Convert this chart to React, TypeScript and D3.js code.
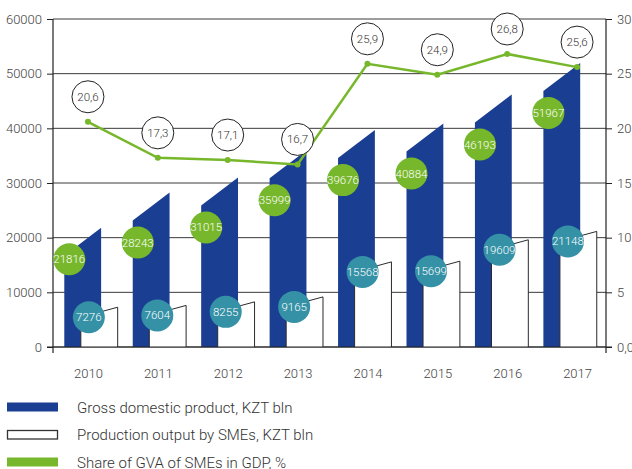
import React, { useEffect, useRef } from 'react';
import * as d3 from 'd3';

const years = ['2010', '2011', '2012', '2013', '2014', '2015', '2016', '2017'];
const gdp = [21816, 28243, 31015, 35999, 39676, 40884, 46193, 51967];
const smeOutput = [7276, 7604, 8255, 9165, 15568, 15699, 19609, 21148];
const smeShare = [20.6, 17.3, 17.1, 16.7, 25.9, 24.9, 26.8, 25.6];
const leftTicks = [0, 10000, 20000, 30000, 40000, 50000, 60000];
const rightTicks = [0, 5, 10, 15, 20, 25, 30];
const legendLabels = [
  'Gross domestic product, KZT bln',
  'Production output by SMEs, KZT bln',
  'Share of GVA of SMEs in GDP, %',
];

const BLUE = '#1a3f92';
const GREEN = '#77b72b';
const TEAL = '#3591a6';
const FONT = 'Roboto, "Open Sans", sans-serif';

const App = () => {
  const svgRef = useRef(null);

  useEffect(() => {
    const width = 632;
    const height = 469;
    const plot = { left: 53, right: 606, top: 19, bottom: 347 };

    const svg = d3.select(svgRef.current);
    svg.selectAll('*').remove();
    svg.attr('width', width).attr('height', height);

    const y = d3.scaleLinear().domain([0, 60000]).range([plot.bottom, plot.top]);
    const yR = d3.scaleLinear().domain([0, 30]).range([plot.bottom, plot.top]);

    // bar groups
    const xBar = d3.scaleBand()
      .domain(years)
      .range([plot.left, plot.right])
      .paddingInner(0.22)
      .paddingOuter(0.15)
      .align(0.55);
    const bw = xBar.bandwidth();
    const barW = bw * 0.69;

    // labels and line
    const xPt = d3.scalePoint()
      .domain(years)
      .range([plot.left, 612])
      .padding(0.5);

    // gridlines
    svg.append('g')
      .selectAll('line')
      .data(leftTicks)
      .join('line')
      .attr('x1', plot.left)
      .attr('x2', plot.right)
      .attr('y1', d => y(d))
      .attr('y2', d => y(d))
      .attr('stroke', '#3a3a3a')
      .attr('stroke-width', 1);

    // GDP bars, slanted top
    const blueSlant = 28;
    svg.append('g')
      .selectAll('path')
      .data(years)
      .join('path')
      .attr('d', (d, i) => {
        const x0 = xBar(d);
        const yt = y(gdp[i]);
        return `M${x0},${plot.bottom}L${x0},${yt + blueSlant}L${x0 + barW},${yt}L${x0 + barW},${plot.bottom}Z`;
      })
      .attr('fill', BLUE);

    // SME output bars
    const whiteSlant = 10;
    svg.append('g')
      .selectAll('path')
      .data(years)
      .join('path')
      .attr('d', (d, i) => {
        const x0 = xBar(d) + bw - barW;
        const yt = y(smeOutput[i]);
        return `M${x0},${plot.bottom}L${x0},${yt + whiteSlant}L${x0 + barW},${yt}L${x0 + barW},${plot.bottom}`;
      })
      .attr('fill', '#fff')
      .attr('stroke', '#2a2a2a')
      .attr('stroke-width', 1);

    // axes lines
    const axes = svg.append('g').attr('stroke', '#222').attr('stroke-width', 1.2);
    axes.append('line').attr('x1', plot.left).attr('x2', plot.left).attr('y1', plot.top).attr('y2', plot.bottom + 6);
    axes.append('line').attr('x1', plot.right).attr('x2', plot.right).attr('y1', plot.top).attr('y2', plot.bottom + 6);
    axes.append('line').attr('x1', plot.left - 6).attr('x2', plot.right + 6).attr('y1', plot.bottom).attr('y2', plot.bottom);

    const styleAxis = g => {
      g.select('.domain').remove();
      g.selectAll('line').attr('stroke', '#222');
      g.selectAll('text')
        .attr('fill', '#444')
        .attr('font-family', FONT)
        .attr('font-weight', 300)
        .attr('font-size', 13);
    };

    svg.append('g')
      .attr('transform', `translate(${plot.left},0)`)
      .call(d3.axisLeft(y).tickValues(leftTicks).tickSize(6).tickPadding(5).tickFormat(d3.format('d')))
      .call(styleAxis);

    svg.append('g')
      .attr('transform', `translate(${plot.right},0)`)
      .call(d3.axisRight(yR).tickValues(rightTicks).tickSize(6).tickPadding(5)
        .tickFormat(d => (d === 0 ? '0,0' : String(d))))
      .call(styleAxis);

    svg.append('g')
      .attr('transform', `translate(0,${plot.bottom})`)
      .call(d3.axisBottom(xPt).tickSize(0).tickPadding(22))
      .call(styleAxis);

    // SME output labels
    const r = 16;
    const tealPos = years.map((d, i) => ({
      x: xBar(d) + bw - barW + 8,
      y: y(smeOutput[i]) + 10,
    }));
    const tealG = svg.append('g');
    tealG.selectAll('circle')
      .data(tealPos)
      .join('circle')
      .attr('cx', d => d.x)
      .attr('cy', d => d.y)
      .attr('r', r)
      .attr('fill', TEAL);
    tealG.selectAll('text')
      .data(tealPos)
      .join('text')
      .attr('x', d => d.x)
      .attr('y', d => d.y)
      .attr('dy', '0.35em')
      .attr('text-anchor', 'middle')
      .attr('fill', '#fff')
      .attr('font-family', FONT)
      .attr('font-weight', 300)
      .attr('font-size', 11.5)
      .text((d, i) => smeOutput[i]);

    // GDP labels, kept above the SME label
    const greenPos = years.map((d, i) => ({
      x: xBar(d) + 5,
      y: Math.min(y(gdp[i]) + 50, tealPos[i].y - 58),
    }));
    const greenG = svg.append('g');
    greenG.selectAll('circle')
      .data(greenPos)
      .join('circle')
      .attr('cx', d => d.x)
      .attr('cy', d => d.y)
      .attr('r', r)
      .attr('fill', GREEN);
    greenG.selectAll('text')
      .data(greenPos)
      .join('text')
      .attr('x', d => d.x)
      .attr('y', d => d.y)
      .attr('dy', '0.35em')
      .attr('text-anchor', 'middle')
      .attr('fill', '#fff')
      .attr('font-family', FONT)
      .attr('font-weight', 300)
      .attr('font-size', 11.5)
      .text((d, i) => gdp[i]);

    // share line
    const line = d3.line()
      .x((d, i) => xPt(years[i]))
      .y(d => yR(d));

    svg.append('path')
      .datum(smeShare)
      .attr('fill', 'none')
      .attr('stroke', GREEN)
      .attr('stroke-width', 2.5)
      .attr('d', line);

    svg.append('g')
      .selectAll('circle')
      .data(smeShare)
      .join('circle')
      .attr('cx', (d, i) => xPt(years[i]))
      .attr('cy', d => yR(d))
      .attr('r', 3)
      .attr('fill', GREEN);

    // share labels
    const fmt = d => d3.format('.1f')(d).replace('.', ',');
    const shareG = svg.append('g');
    shareG.selectAll('circle')
      .data(smeShare)
      .join('circle')
      .attr('cx', (d, i) => xPt(years[i]))
      .attr('cy', d => yR(d) - 25)
      .attr('r', r)
      .attr('fill', '#fff')
      .attr('stroke', '#222')
      .attr('stroke-width', 1);
    shareG.selectAll('text')
      .data(smeShare)
      .join('text')
      .attr('x', (d, i) => xPt(years[i]))
      .attr('y', d => yR(d) - 25)
      .attr('dy', '0.35em')
      .attr('text-anchor', 'middle')
      .attr('fill', '#333')
      .attr('font-family', FONT)
      .attr('font-weight', 300)
      .attr('font-size', 11.5)
      .text(fmt);

    // legend
    const legend = svg.append('g').attr('transform', 'translate(7,407)');
    const items = legend.selectAll('g')
      .data(legendLabels)
      .join('g')
      .attr('transform', (d, i) => `translate(0,${i * 27.5})`);
    items.append('rect')
      .attr('x', (d, i) => (i === 1 ? 0.5 : 0))
      .attr('y', (d, i) => (i === 1 ? -4 : -4.5))
      .attr('width', (d, i) => (i === 1 ? 50 : 51))
      .attr('height', (d, i) => (i === 1 ? 8.5 : 9))
      .attr('fill', (d, i) => [BLUE, '#fff', GREEN][i])
      .attr('stroke', (d, i) => (i === 1 ? '#333' : 'none'))
      .attr('stroke-width', 1.3);
    items.append('text')
      .attr('x', 70)
      .attr('y', 5.5)
      .attr('fill', '#333')
      .attr('font-family', FONT)
      .attr('font-weight', 300)
      .attr('font-size', 15)
      .text(d => d);
  }, []);

  return (
    <svg ref={svgRef} style={{ position: 'absolute', left: 0, top: 0 }}></svg>
  );
};

export default App;
